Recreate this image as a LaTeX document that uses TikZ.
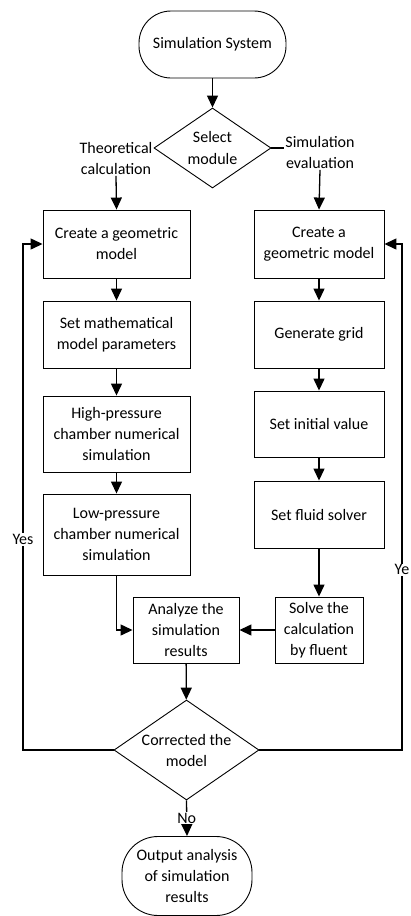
\documentclass[tikz,border=0pt]{standalone}
\usepackage{fontspec}
\setmainfont{Carlito}
\usepackage{tikz}
\usetikzlibrary{shapes.geometric,arrows.meta,positioning,calc}
\definecolor{fcink}{HTML}{000000}
\tikzset{
  box/.style   = {rectangle, draw=fcink, line width=0.9pt, align=center,
                  inner sep=2pt, font=\fontsize{16}{21}\selectfont},
  term/.style  = {box, rounded corners=32pt},
  dec/.style   = {diamond, draw=fcink, line width=0.9pt, align=center,
                  inner sep=0pt, font=\fontsize{16}{21}\selectfont},
  flow/.style  = {-{Triangle[length=12pt,width=11pt]}, line width=1.3pt, draw=fcink},
  line/.style  = {line width=1.3pt, draw=fcink},
  lbl/.style   = {font=\fontsize{16}{21}\selectfont, fill=white, inner sep=1pt, align=center},
}
\begin{document}
\begin{tikzpicture}[x=1pt,y=-1pt]
\useasboundingbox (0,0) rectangle (410,916);
\node[term, minimum width=147pt, minimum height=67pt] (st) at (212.5,44.5) {Simulation System};
\node[dec, minimum width=117pt, minimum height=80pt, aspect=1.46] (sel) at (212.5,148) {Select\\module};
\node[lbl, fill=none] (tc) at (116,158.5) {Theoretical\\calculation};
\node[lbl, fill=none] (se) at (320,152.5) {Simulation\\evaluation};

% left column
\node[box, minimum width=147pt, minimum height=68pt] (l1) at (116.5,244) {Create a geometric\\model};
\node[box, minimum width=147pt, minimum height=67pt] (l2) at (116.5,334.5) {Set mathematical\\model parameters};
\node[box, minimum width=147pt, minimum height=76pt] (l3) at (116.5,434) {High-pressure\\chamber numerical\\simulation};
\node[box, minimum width=147pt, minimum height=81pt] (l4) at (116.5,534.5) {Low-pressure\\chamber numerical\\simulation};

% right column
\node[box, minimum width=130pt, minimum height=68pt] (r1) at (319,244) {Create a\\geometric model};
\node[box, minimum width=130pt, minimum height=67pt] (r2) at (319,334.5) {Generate grid};
\node[box, minimum width=130pt, minimum height=66pt] (r3) at (319,424) {Set initial value};
\node[box, minimum width=130pt, minimum height=67pt] (r4) at (319,514.5) {Set fluid solver};
\node[box, minimum width=88pt, minimum height=66pt] (r5) at (319,630) {Solve the\\calculation\\by fluent};

\node[box, minimum width=106pt, minimum height=66pt] (an) at (186,630) {Analyze the\\simulation\\results};
\node[dec, minimum width=145pt, minimum height=100pt, aspect=1.45] (cor) at (186.5,750) {Corrected the\\model};
\node[term, rounded corners=36pt, minimum width=130pt, minimum height=79pt] (out) at (187,876) {Output analysis\\of simulation\\results};

\coordinate (lx) at (23,750);
\coordinate (rx) at (402,750);

\draw[flow] (st) -- (sel);
\draw[line] (sel.east) -- (se.west |- sel.east);
\draw[flow] (tc.south) -- (l1.north);
\draw[flow] (se.south) -- (r1.north);
\draw[flow] (l1) -- (l2); \draw[flow] (l2) -- (l3); \draw[flow] (l3) -- (l4);
\draw[flow] (r1) -- (r2); \draw[flow] (r2) -- (r3); \draw[flow] (r3) -- (r4);
\draw[flow] (r4) -- (r5);
\draw[flow] (l4.south) |- (an.west);
\draw[flow] (r5) -- (an);
\draw[flow] (an) -- (cor);
\draw[flow] (cor.west) -- (lx) |- node[lbl, pos=0.208]{Yes} (l1.west);
\draw[flow] (cor.east) -- (rx) |- node[lbl, pos=0.178]{Ye} (r1.east);
\draw[flow] (cor.south) -- node[lbl]{No} (out.north);
\end{tikzpicture}
\end{document}
